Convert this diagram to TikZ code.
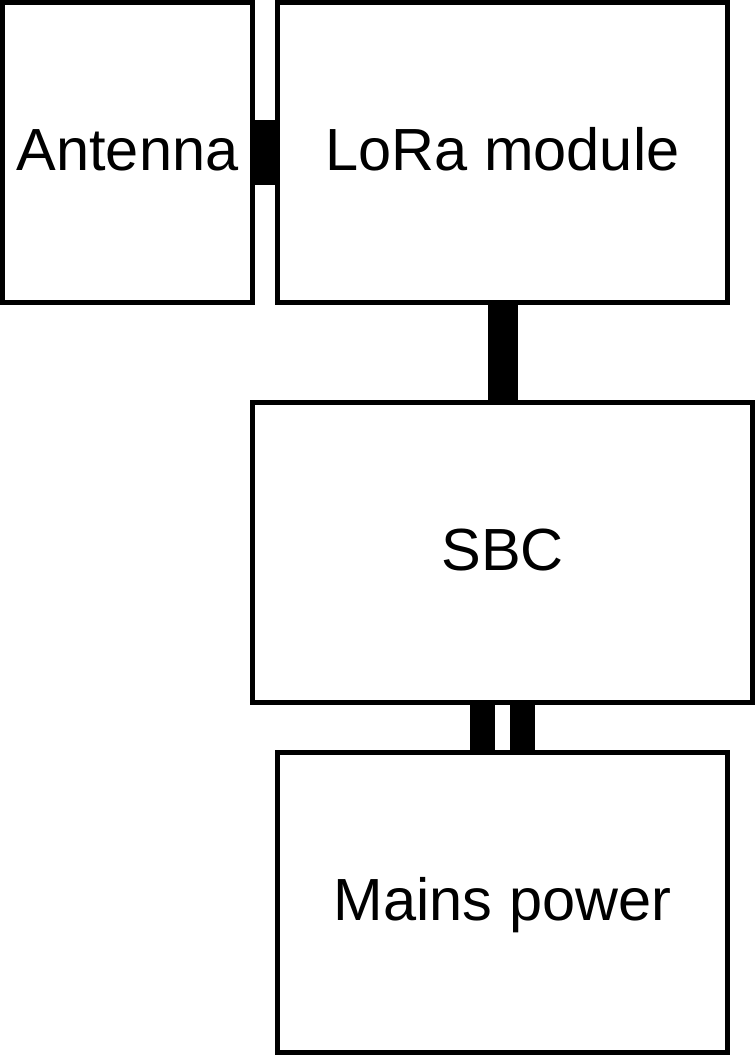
\documentclass[tikz,border=0pt]{standalone}
\usepackage{fontspec}
\setmainfont{Liberation Sans}
\usepackage{tikz}
\usetikzlibrary{positioning}

\begin{document}
\begin{tikzpicture}[x=1pt, y=1pt,
    block/.style={draw, rectangle, line width=5pt, inner sep=0pt, outer sep=0pt,
      minimum height=300pt, text height=44pt, text depth=9pt,
      font=\fontsize{59.5}{72}\selectfont},
    link/.style={line width=#1}]
  \useasboundingbox (0,0) rectangle (755,-1055);

  \node[block, minimum width=250pt] (antenna) at (127.5,-152.5) {Antenna};
  \node[block, minimum width=450pt, right=25pt of antenna] (lora) {LoRa module};
  \node[block, minimum width=500pt, below=100pt of lora] (sbc) {SBC};
  \node[block, minimum width=450pt, below=50pt of sbc] (mains) {Mains power};

  \draw[link=65pt] (antenna.east) -- (lora.west);
  \draw[link=30pt] (lora.south) -- (sbc.north);
  \draw[link=25pt] ([xshift=-20pt]sbc.south) -- ([xshift=-20pt]mains.north);
  \draw[link=25pt] ([xshift=20pt]sbc.south) -- ([xshift=20pt]mains.north);
\end{tikzpicture}
\end{document}
